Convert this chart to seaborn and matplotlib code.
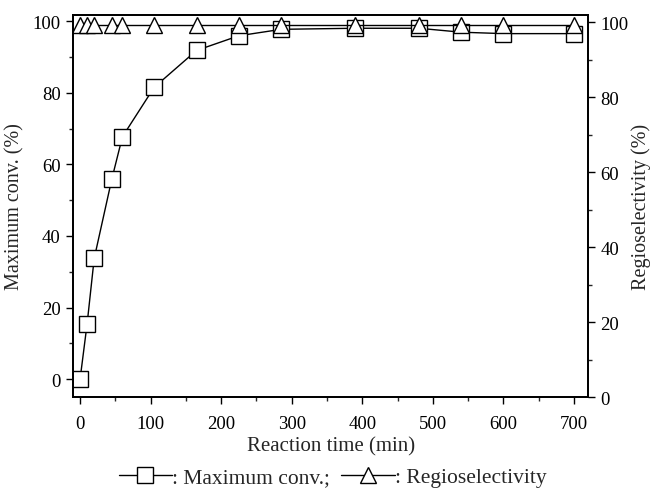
import numpy as np
import pandas as pd
import matplotlib
matplotlib.use("Agg")
import matplotlib.pyplot as plt
from matplotlib.lines import Line2D
from matplotlib.ticker import MultipleLocator
import seaborn as sns

# data
time_min = [0, 10, 20, 45, 60, 105, 165, 225, 285, 390, 480, 540, 600, 700]
max_conv = [0, 15.5, 33.7, 55.9, 67.7, 81.5, 91.8, 95.9, 97.7, 98.0, 98.0, 96.9, 96.5, 96.5]
regiosel = [99.2] * len(time_min)

data = pd.DataFrame({'time': time_min, 'conv': max_conv, 'regio': regiosel})

sns.set_style("ticks")
plt.rcParams['font.family'] = ['Liberation Serif', 'DejaVu Serif']
plt.rcParams['font.size'] = 15

fig = plt.figure(figsize=(6.52, 4.89), dpi=100)
ax = fig.add_axes([0.112, 0.186, 0.79, 0.782])
ax2 = ax.twinx()

style = dict(color='black', linewidth=1.0, markersize=11.5,
             markerfacecolor='white', markeredgecolor='black', markeredgewidth=1.0)

sns.lineplot(x='time', y='conv', data=data, ax=ax, marker='s', **style)
sns.lineplot(x='time', y='regio', data=data, ax=ax2, marker='^', **style)

ax.set_xlim(-10, 720)
ax.set_ylim(-5, 101.8)
ax2.set_ylim(0, 102)

ax.xaxis.set_major_locator(MultipleLocator(100))
ax.xaxis.set_minor_locator(MultipleLocator(50))
ax.yaxis.set_major_locator(MultipleLocator(20))
ax.yaxis.set_minor_locator(MultipleLocator(10))
ax2.yaxis.set_major_locator(MultipleLocator(20))
ax2.yaxis.set_minor_locator(MultipleLocator(10))

for a in (ax, ax2):
    a.tick_params(which='major', direction='out', length=5, width=1, labelsize=13.5,
                  colors='black', pad=4)
    a.tick_params(which='minor', direction='out', length=3, width=1)
    for s in a.spines.values():
        s.set_linewidth(1.3)
        s.set_color('black')
ax.tick_params(axis='x', which='major', pad=8)

ax.set_xlabel('Reaction time (min)', fontsize=15, labelpad=3)
ax.set_ylabel('Maximum conv. (%)', fontsize=14.5, labelpad=6)
ax2.set_ylabel('Regioselectivity (%)', fontsize=14.5, labelpad=2)

handles = [
    Line2D([], [], marker='s', **style),
    Line2D([], [], marker='^', **style),
]
fig.legend(handles, [': Maximum conv.;', ': Regioselectivity'], loc='center',
           bbox_to_anchor=(0.51, 0.022), ncol=2, frameon=False, fontsize=15.5,
           handlelength=2.5, handletextpad=0.0, columnspacing=0.5,
           borderpad=0, borderaxespad=0)

fig.savefig('out.png', dpi=100)
